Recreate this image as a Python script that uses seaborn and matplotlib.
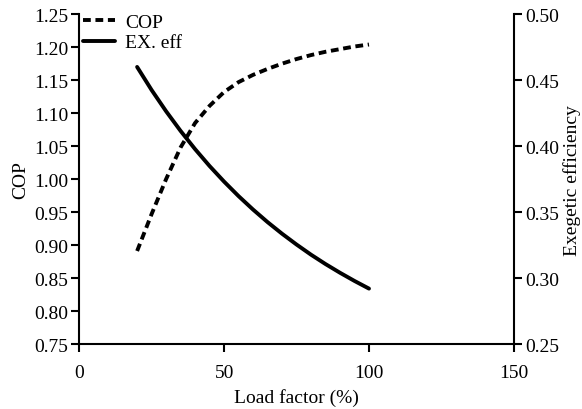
import matplotlib
matplotlib.use("Agg")
import matplotlib.pyplot as plt
import seaborn as sns
import pandas as pd

load = [20, 25, 30, 35, 40, 45, 50, 55, 60, 65, 70, 75, 80, 85, 90, 95, 100]
cop = [0.891, 0.947, 1.000, 1.048, 1.085, 1.111, 1.132, 1.147, 1.158, 1.167,
       1.175, 1.182, 1.188, 1.193, 1.197, 1.201, 1.204]
ex_eff = [0.4600, 0.4425, 0.4264, 0.4115, 0.3977, 0.3849, 0.3731, 0.3621, 0.3519,
          0.3424, 0.3336, 0.3254, 0.3177, 0.3106, 0.3040, 0.2978, 0.2920]
x_ticks = [0, 50, 100, 150]
cop_ticks = [0.75, 0.80, 0.85, 0.90, 0.95, 1.00, 1.05, 1.10, 1.15, 1.20, 1.25]
eff_ticks = [0.25, 0.30, 0.35, 0.40, 0.45, 0.50]

sns.set_style("ticks")
plt.rcParams['font.family'] = ['Liberation Serif', 'DejaVu Serif']
plt.rcParams['font.size'] = 14
for k in ['text.color', 'axes.labelcolor', 'xtick.color', 'ytick.color', 'axes.edgecolor']:
    plt.rcParams[k] = 'black'

df = pd.DataFrame({"load": load, "cop": cop, "ex": ex_eff})

fig = plt.figure(figsize=(5.82, 4.10), dpi=100)
ax = fig.add_axes([0.136, 0.1585, 0.747, 0.8045])
ax2 = ax.twinx()

sns.lineplot(data=df, x="load", y="cop", ax=ax, color="black", linewidth=2.8,
             linestyle=(0, (2, 1.2)), label="COP", legend=False)
sns.lineplot(data=df, x="load", y="ex", ax=ax2, color="black", linewidth=2.8,
             label="EX. eff", legend=False)

ax.set_xlim(0, 150)
ax.set_ylim(0.75, 1.25)
ax2.set_ylim(0.25, 0.50)
ax.set_xticks(x_ticks)
ax.set_xticklabels([str(v) for v in x_ticks])
ax.set_yticks(cop_ticks)
ax.set_yticklabels([f"{v:.2f}" for v in cop_ticks])
ax2.set_yticks(eff_ticks)
ax2.set_yticklabels([f"{v:.2f}" for v in eff_ticks])

ax.set_xlabel("Load factor (%)", fontsize=14, labelpad=5)
ax.set_ylabel("COP", fontsize=14, labelpad=3)
ax2.set_ylabel("Exegetic efficiency", fontsize=14, labelpad=3)

for a in (ax, ax2):
    a.spines['top'].set_visible(False)
    for s in a.spines.values():
        s.set_linewidth(1.5)
        s.set_color("black")
    a.tick_params(width=1.5, length=5.5, colors="black", labelsize=14, pad=2.5)
ax.tick_params(axis='x', pad=9)
ax.spines['right'].set_visible(False)
ax2.spines['left'].set_visible(False)
ax2.spines['bottom'].set_visible(False)

h1, lab1 = ax.get_legend_handles_labels()
h2, lab2 = ax2.get_legend_handles_labels()
ax.legend(h1 + h2, lab1 + lab2, loc="upper left", bbox_to_anchor=(0.009, 1.003),
          frameon=False, fontsize=14, handlelength=1.65, handletextpad=0.5,
          labelspacing=0.15, borderaxespad=0.0, borderpad=0.0)

fig.savefig("out.png", dpi=100)
